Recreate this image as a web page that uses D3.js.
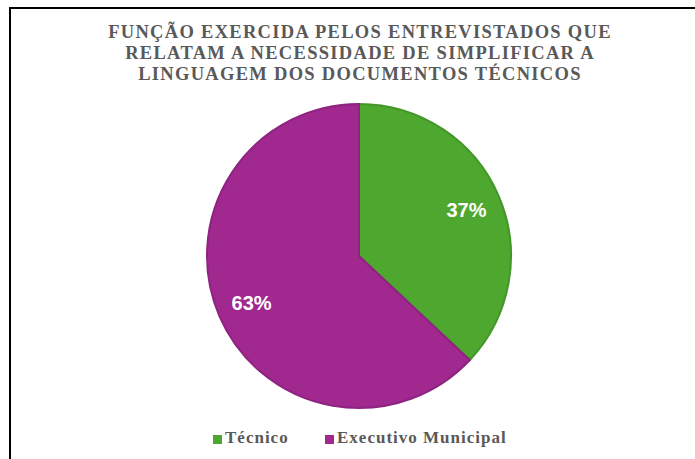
<!DOCTYPE html>
<html><head><meta charset="utf-8">
<script src="https://cdn.jsdelivr.net/npm/d3@7"></script>
<style>body{margin:0;background:#fff}svg{display:block}</style>
</head><body>
<script>
const categories = ["Técnico", "Executivo Municipal"];
const values = [37, 63];
const colors = ["#4ea72e", "#a0288f"];
const strokes = ["#45962a", "#8e2380"];
const titleLines = ["FUNÇÃO EXERCIDA PELOS ENTREVISTADOS QUE", "RELATAM A NECESSIDADE DE SIMPLIFICAR A", "LINGUAGEM DOS DOCUMENTOS TÉCNICOS"];

const W = 695, H = 459;
const svg = d3.select("body").append("svg").attr("width", W).attr("height", H);
svg.append("rect").attr("x", 10).attr("y", 8).attr("width", 700).attr("height", 470)
  .attr("fill", "#fff").attr("stroke", "#000").attr("stroke-width", 2);

const cx = 359, cy = 256, r = 152;
svg.append("g").selectAll("text").data(titleLines).join("text")
  .attr("x", cx + 1).attr("y", (d, i) => 38 + i * 21)
  .attr("text-anchor", "middle")
  .attr("font-family", "Liberation Serif, serif").attr("font-weight", "bold")
  .attr("font-size", 18.5).attr("letter-spacing", 1.3).attr("fill", "#595959")
  .text(d => d);

const pie = d3.pie().sort(null).value(d => d);
const arcs = pie(values);
const arc = d3.arc().innerRadius(0).outerRadius(r);
const g = svg.append("g").attr("transform", `translate(${cx},${cy})`);
g.selectAll("path").data(arcs).join("path")
  .attr("d", arc).attr("fill", (d, i) => colors[i])
  .attr("stroke", (d, i) => strokes[i]).attr("stroke-width", 2);

const labelArc = d3.arc().innerRadius(r * 0.77).outerRadius(r * 0.77);
g.selectAll("text").data(arcs).join("text")
  .attr("transform", d => `translate(${labelArc.centroid(d)})`)
  .attr("text-anchor", "middle").attr("dy", "0.36em")
  .attr("font-family", "Liberation Sans, Arial, sans-serif").attr("font-weight", "bold")
  .attr("font-size", 20).attr("fill", "#fff")
  .text(d => d.data + "%");

const leg = svg.append("g");
const legX = [213, 325];
categories.forEach((c, i) => {
  leg.append("rect").attr("x", legX[i]).attr("y", 435).attr("width", 9).attr("height", 9).attr("fill", colors[i]);
  leg.append("text").attr("x", legX[i] + 12).attr("y", 443)
    .attr("font-family", "Liberation Serif, serif").attr("font-weight", "bold")
    .attr("font-size", 17).attr("letter-spacing", 1).attr("fill", "#595959").text(c);
});
</script>
</body></html>
